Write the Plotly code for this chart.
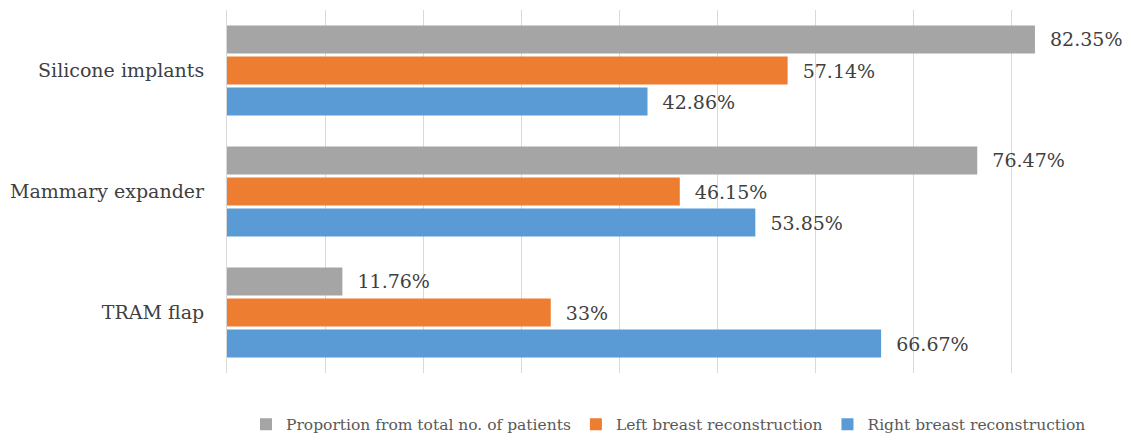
import plotly.graph_objects as go

categories = ["TRAM flap", "Mammary expander", "Silicone implants"]
right_breast = [66.67, 53.85, 42.86]
left_breast = [33, 46.15, 57.14]
proportion_total = [11.76, 76.47, 82.35]

series_names = ["Right breast reconstruction", "Left breast reconstruction",
                "Proportion from total no. of patients"]
series_values = [right_breast, left_breast, proportion_total]
series_colors = ["#5b9bd5", "#ed7d31", "#a5a5a5"]
legend_ranks = [3, 2, 1]

FONT = "DejaVu Serif"

fig = go.Figure()
for name, vals, col, rank in zip(series_names, series_values, series_colors, legend_ranks):
    fig.add_trace(go.Bar(
        y=categories, x=vals, name=name, orientation="h",
        marker=dict(color=col, line=dict(width=0)),
        texttemplate="\u00a0\u00a0%{x}%", textposition="outside",
        textfont=dict(family=FONT, size=19, color="#404040"),
        cliponaxis=False, legendrank=rank,
    ))

fig.update_layout(
    width=1131, height=440,
    margin=dict(l=224, r=21, t=10, b=67),
    paper_bgcolor="white", plot_bgcolor="white",
    barmode="group", bargap=0.23, bargroupgap=0.1,
    font=dict(family=FONT, size=19, color="#404040"),
    showlegend=True,
    legend=dict(orientation="h", xref="paper", yref="container",
                x=0.5, xanchor="center", y=0.035, yanchor="middle",
                font=dict(family=FONT, size=15.5, color="#595959"),
                itemwidth=30, traceorder="normal"),
)
fig.update_xaxes(range=[0, 90], dtick=10, showticklabels=False, showgrid=True,
                 gridcolor="#d9d9d9", gridwidth=1, zeroline=False, showline=False,
                 fixedrange=True)
fig.update_yaxes(showgrid=False, zeroline=False, showline=True, linecolor="#d9d9d9",
                 linewidth=1, ticks="", ticklabelstandoff=18,
                 tickfont=dict(family=FONT, size=19, color="#404040"))

fig.write_html("out.html")
